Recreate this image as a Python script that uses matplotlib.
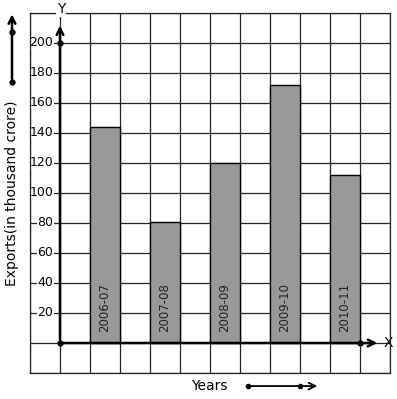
import matplotlib
import numpy as np

matplotlib.use("Agg")
import matplotlib.pyplot as plt  # noqa: E402

# exports per financial year, in thousand crore
years = ["2006-07", "2007-08", "2008-09", "2009-10", "2010-11"]
exports = [144, 81, 120, 172, 112]
bar_pos = [1.5, 3.5, 5.5, 7.5, 9.5]
y_ticks = [20, 40, 60, 80, 100, 120, 140, 160, 180, 200]

FS = 8.5
C_BAR = "#999999"
C_GRID = "#222222"

fig = plt.figure(figsize=(3.97, 3.99), dpi=100)
ax = fig.add_axes([30 / 397, 26 / 399, 360 / 397, 360 / 399])
ax.set_xlim(-1, 11)
ax.set_ylim(-20, 220)

# graph paper: one square = 1 year slot x 20 units
for gx in np.arange(-1, 12):
    ax.axvline(gx, color=C_GRID, lw=0.9, zorder=1)
for gy in np.arange(-20, 240, 20):
    ax.axhline(gy, color=C_GRID, lw=0.9, zorder=1)
for s in ax.spines.values():
    s.set_color(C_GRID)
    s.set_linewidth(0.9)
    s.set_zorder(6)
ax.set_xticks([])
ax.set_yticks([])

ax.bar(bar_pos, exports, width=1.0, color=C_BAR, edgecolor="black", lw=1.0, zorder=2)
for x, lab in zip(bar_pos, years):
    ax.text(x, 7, lab, rotation=90, ha="center", va="bottom", fontsize=FS,
            color="#222222", zorder=3)

# axes with arrowheads
ax.annotate("", xy=(10.67, 0), xytext=(0, 0),
            arrowprops=dict(arrowstyle="->", lw=1.8, color="black", mutation_scale=12),
            zorder=4)
ax.annotate("", xy=(0, 213.5), xytext=(0, 0),
            arrowprops=dict(arrowstyle="->", lw=1.8, color="black", mutation_scale=12),
            zorder=4)
ax.plot([0, 10, 0], [0, 0, 200], "o", color="black", ms=3.5, zorder=5, clip_on=False)
ax.text(10.93, 0, "X", ha="center", va="center", fontsize=FS + 1.5)
ax.text(0.03, 222.5, "Y", ha="center", va="center", fontsize=FS + 1.5, zorder=7,
        bbox=dict(facecolor="white", edgecolor="none", pad=0.5), clip_on=False)

for t in y_ticks:
    ax.text(-0.22, t, f"{t}", ha="right", va="center", fontsize=FS + 0.5, zorder=3,
            bbox=dict(facecolor="white", edgecolor="none", pad=0.3))

# axis captions with direction arrows
ax.text(-1.6, 100, "Exports(in thousand crore)", rotation=90, ha="center", va="center",
        fontsize=10, clip_on=False)
ax.annotate("", xy=(-1.6, 221), xytext=(-1.6, 174), annotation_clip=False,
            arrowprops=dict(arrowstyle="->", lw=1.8, color="black", mutation_scale=12))
ax.plot([-1.6, -1.6], [174, 207.3], "o", color="black", ms=3.5, clip_on=False)

ax.text(4.97, -28.5, "Years", ha="center", va="center", fontsize=10, clip_on=False)
ax.annotate("", xy=(8.67, -28.7), xytext=(6.27, -28.7), annotation_clip=False,
            arrowprops=dict(arrowstyle="->", lw=1.3, color="black", mutation_scale=12))
ax.plot([6.27, 8.0], [-28.7, -28.7], "o", color="black", ms=3, clip_on=False)

fig.savefig("out.png", dpi=100)
